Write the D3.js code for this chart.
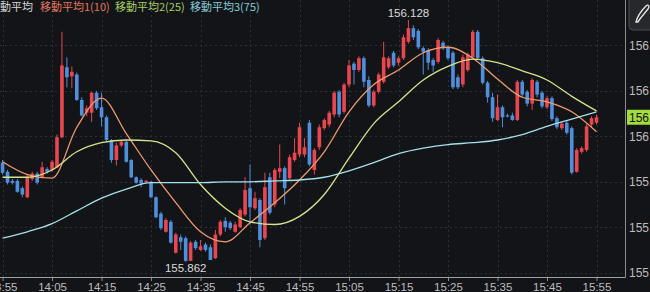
<!DOCTYPE html>
<html>
<head>
	<title>candle-ma</title>
	<meta charset="utf-8">
	<style type="text/css">
		body{margin:0;background:#131418;}
		svg{display:block;}
	</style>
</head>
<body>

<script type="text/javascript" src="https://cdn.jsdelivr.net/npm/d3@7"></script>
<script type="text/javascript">
	/*=========DATA=========*/
	// 1-minute candles from 13:55 to 15:55
	var startTime = "13:55";
	var opens = [155.971,155.961,155.951,155.951,155.943,155.933,155.953,155.959,155.955,155.964,
		155.963,155.966,155.999,156.076,156.066,156.068,156.040,156.026,156.026,156.048,
		156.032,156.021,155.996,155.974,155.990,155.994,155.974,155.955,155.952,155.950,
		155.950,155.933,155.915,155.895,155.906,155.872,155.889,155.888,155.863,155.884,
		155.875,155.881,155.878,155.866,155.892,155.907,155.905,155.895,155.900,155.914,
		155.943,155.921,155.930,155.888,155.955,155.925,155.961,155.965,155.954,155.974,
		155.980,155.980,156.015,155.963,155.988,156.009,156.013,156.024,156.049,156.027,
		156.057,156.080,156.073,156.086,156.062,156.034,156.049,156.060,156.076,156.092,
		156.081,156.086,156.104,156.119,156.116,156.097,156.095,156.084,156.082,156.103,
		156.098,156.092,156.065,156.057,156.073,156.087,156.115,156.086,156.059,156.043,
		156.018,156.032,156.023,156.023,156.018,156.060,156.049,156.036,156.060,156.048,
		156.032,156.042,156.020,156.009,156.015,156.009,155.961,155.983,155.985,156.013,
		156.015];
	var highs = [155.974,155.963,155.953,155.953,155.945,155.959,155.961,155.961,155.972,155.966,
		155.974,156.002,156.115,156.087,156.077,156.070,156.043,156.034,156.049,156.050,
		156.048,156.023,155.997,155.993,155.996,155.996,155.975,155.956,155.954,155.952,
		155.951,155.934,155.917,155.910,155.908,155.894,155.892,155.890,155.885,155.886,
		155.886,155.883,155.881,155.897,155.908,155.911,155.907,155.906,155.921,155.955,
		155.969,155.939,155.932,155.960,155.960,155.965,155.991,155.967,155.980,155.998,
		156.015,155.998,156.018,155.987,156.013,156.020,156.028,156.050,156.051,156.059,
		156.084,156.082,156.088,156.088,156.066,156.051,156.070,156.104,156.088,156.094,
		156.088,156.112,156.128,156.122,156.118,156.099,156.097,156.086,156.108,156.105,
		156.100,156.094,156.068,156.090,156.092,156.117,156.117,156.088,156.061,156.048,
		156.046,156.034,156.025,156.026,156.062,156.062,156.051,156.064,156.062,156.050,
		156.044,156.044,156.022,156.016,156.017,156.011,155.987,155.989,156.014,156.022,
		156.024];
	var lows = [155.958,155.947,155.947,155.938,155.933,155.932,155.951,155.947,155.954,155.959,
		155.961,155.965,155.998,156.054,156.053,156.039,156.022,156.022,156.016,156.029,
		156.011,155.994,155.971,155.968,155.988,155.971,155.954,155.948,155.944,155.949,
		155.932,155.910,155.897,155.894,155.882,155.871,155.875,155.862,155.863,155.875,
		155.874,155.873,155.864,155.865,155.890,155.895,155.897,155.894,155.899,155.912,
		155.903,155.919,155.878,155.886,155.914,155.922,155.954,155.925,155.952,155.972,
		155.977,155.977,155.967,155.958,155.985,156.007,156.010,156.021,156.021,156.025,
		156.054,156.057,156.071,156.054,156.032,156.032,156.047,156.058,156.074,156.076,
		156.078,156.084,156.102,156.106,156.096,156.068,156.073,156.071,156.080,156.095,
		156.084,156.052,156.052,156.054,156.071,156.085,156.084,156.057,156.037,156.016,
		156.017,156.010,156.021,156.017,156.017,156.043,156.033,156.029,156.043,156.031,
		156.030,156.017,156.008,156.007,156.002,155.958,155.960,155.981,155.983,156.010,
		156.013];
	var closes = [155.960,155.949,155.949,155.939,155.936,155.955,155.959,155.949,155.966,155.961,
		155.972,155.999,156.078,156.065,156.071,156.040,156.023,156.031,156.048,156.031,
		156.021,155.996,155.974,155.990,155.994,155.972,155.955,155.949,155.948,155.951,
		155.933,155.911,155.899,155.908,155.883,155.892,155.884,155.863,155.883,155.877,
		155.879,155.875,155.864,155.892,155.906,155.900,155.899,155.903,155.919,155.941,
		155.922,155.932,155.886,155.944,155.916,155.963,155.965,155.943,155.977,155.982,
		156.010,155.988,155.969,155.985,156.010,156.018,156.026,156.048,156.024,156.057,
		156.078,156.073,156.086,156.060,156.034,156.049,156.068,156.087,156.086,156.078,
		156.086,156.109,156.119,156.109,156.098,156.093,156.081,156.078,156.106,156.097,
		156.086,156.054,156.054,156.087,156.090,156.115,156.086,156.059,156.043,156.020,
		156.032,156.021,156.022,156.018,156.060,156.046,156.036,156.062,156.046,156.033,
		156.042,156.019,156.010,156.014,156.004,155.960,155.985,155.987,156.011,156.020,
		156.021];

	// moving averages, read every 5 minutes from 13:55
	var ma1 = [155.972,155.958,155.954,156.010,156.042,156.003,155.963,155.927,155.895,155.884,
		155.905,155.927,155.952,155.983,156.027,156.057,156.073,156.092,156.098,156.086,
		156.063,156.043,156.038,156.027,156.005];
	var ma2 = [155.955,155.955,155.963,155.983,155.993,155.996,155.995,155.982,155.947,155.921,
		155.906,155.903,155.912,155.936,155.976,156.014,156.038,156.062,156.077,156.085,
		156.081,156.072,156.062,156.044,156.028];
	var ma3 = [155.888,155.895,155.904,155.918,155.932,155.942,155.949,155.949,155.949,155.950,
		155.950,155.951,155.952,155.955,155.962,155.971,155.981,155.987,155.991,155.993,
		155.996,156.002,156.011,156.019,156.027];

	var timeTicks = ["13:55","14:05","14:15","14:25","14:35","14:45","14:55",
		"15:05","15:15","15:25","15:35","15:45","15:55"];
	var priceTicks = [155.85,155.90,155.95,156.00,156.05,156.10];
	var legendNames = ["移動平均","移動平均1(10)","移動平均2(25)","移動平均3(75)"];

	/*=========COLOR=========*/
	var upColor = "#e8474f";
	var downColor = "#4f8fdc";
	var maColors = ["#ee9b6c","#d3e58a","#a6e0ea"];
	var legendColors = ["#d8d8d8","#e2765c","#a4cf62","#82cdd8"];
	var gridColor = "#2c3036";
	var textColor = "#bdbdbd";
	var font = "'Liberation Sans', Arial, sans-serif";
	var cjkFont = "'Noto Sans CJK JP', 'Liberation Sans', sans-serif";

	/*=====SIZE SVG======*/
	var w = 650;
	var h = 292;
	var plotRight = 625;
	var plotBottom = 277;
	var svg = d3.select("body").append("svg").attr("width",w).attr("height",h);
	svg.append("rect").attr("width",w).attr("height",h).attr("fill","#131418");

	/*=========SCALE=========*/
	var parse = d3.timeParse("%H:%M");
	var t0 = parse(startTime);
	var times = opens.map(function(d,i){ return d3.timeMinute.offset(t0,i); });
	var maTimes = ma1.map(function(d,i){ return d3.timeMinute.offset(t0,i*5); });

	var x = d3.scaleTime()
		.domain([t0, d3.timeMinute.offset(t0,120)])
		.range([2.55,596.5]);
	var y = d3.scaleLinear()
		.domain([155.85,156.10])
		.range([272.7,45.45]);

	svg.append("clipPath").attr("id","plot")
		.append("rect").attr("x",0).attr("y",0).attr("width",plotRight).attr("height",plotBottom);

	/*=========GRID=========*/
	var grid = svg.append("g").attr("stroke",gridColor).attr("stroke-width",1).attr("stroke-dasharray","2,3");
	grid.selectAll("line.h").data(priceTicks).enter().append("line")
		.attr("class","h")
		.attr("x1",0).attr("x2",plotRight)
		.attr("y1",function(d){ return Math.round(y(d)) + 0.5; })
		.attr("y2",function(d){ return Math.round(y(d)) + 0.5; });
	grid.selectAll("line.v").data(timeTicks).enter().append("line")
		.attr("class","v")
		.attr("y1",0).attr("y2",plotBottom)
		.attr("x1",function(d){ return Math.round(x(parse(d))) + 0.5; })
		.attr("x2",function(d){ return Math.round(x(parse(d))) + 0.5; });

	/*=========CANDLES=========*/
	var plot = svg.append("g").attr("clip-path","url(#plot)");
	var candles = plot.selectAll("g.candle")
		.data(times)
		.enter()
		.append("g")
		.attr("class","candle");
	function col(i){ return closes[i] >= opens[i] ? upColor : downColor; }
	candles.append("line")
		.attr("x1",function(d){ return x(d); })
		.attr("x2",function(d){ return x(d); })
		.attr("y1",function(d,i){ return y(highs[i]); })
		.attr("y2",function(d,i){ return y(lows[i]); })
		.attr("stroke",function(d,i){ return col(i); })
		.attr("stroke-width",1);
	candles.append("rect")
		.attr("x",function(d){ return x(d) - 1.8; })
		.attr("width",3.6)
		.attr("y",function(d,i){ return Math.min(y(opens[i]),y(closes[i])); })
		.attr("height",function(d,i){ return Math.max(1.2,Math.abs(y(opens[i]) - y(closes[i]))); })
		.attr("fill",function(d,i){ return col(i); });

	/*=========MA LINES=========*/
	var line = d3.line()
		.x(function(d,i){ return x(maTimes[i]); })
		.y(function(d){ return y(d); })
		.curve(d3.curveMonotoneX);
	[ma1,ma2,ma3].forEach(function(s,k){
		plot.append("path")
			.attr("d",line(s))
			.attr("fill","none")
			.attr("stroke",maColors[k])
			.attr("stroke-width",1.3);
	});

	/*=========HIGH / LOW=========*/
	var hiIdx = d3.maxIndex(highs);
	var loIdx = d3.minIndex(lows);
	svg.append("text")
		.attr("x",x(times[hiIdx])).attr("y",y(highs[hiIdx]) - 3)
		.attr("text-anchor","middle")
		.attr("fill","#dcdcdc").attr("font-family",font).attr("font-size",11.5)
		.text(d3.format(".3f")(highs[hiIdx]));
	svg.append("text")
		.attr("x",x(times[loIdx])).attr("y",y(lows[loIdx]) + 10.5)
		.attr("text-anchor","middle")
		.attr("fill","#dcdcdc").attr("font-family",font).attr("font-size",11.5)
		.text(d3.format(".3f")(lows[loIdx]));

	/*=========AXES=========*/
	var xAxis = d3.axisBottom(x)
		.tickValues(timeTicks.map(parse))
		.tickFormat(d3.timeFormat("%H:%M"))
		.tickSize(4).tickPadding(2);
	var gx = svg.append("g").attr("transform","translate(0," + plotBottom + ")").call(xAxis);
	gx.select(".domain").remove();
	gx.selectAll(".tick line").attr("stroke","#8a8a8a");
	gx.selectAll(".tick text").attr("fill",textColor).attr("font-family",font).attr("font-size",11.5);

	var yAxis = d3.axisRight(y)
		.tickValues(priceTicks)
		.tickFormat(d3.format(".2f"))
		.tickSize(0).tickPadding(4);
	var gy = svg.append("g").attr("transform","translate(" + plotRight + ",0)").call(yAxis);
	gy.select(".domain").remove();
	gy.selectAll(".tick text").attr("fill",textColor).attr("font-family",font).attr("font-size",12);

	// frame
	svg.append("line").attr("x1",0).attr("x2",plotRight + 0.5)
		.attr("y1",plotBottom + 0.5).attr("y2",plotBottom + 0.5)
		.attr("stroke","#a0a0a0").attr("stroke-width",1.2);
	svg.append("line").attr("x1",plotRight + 0.5).attr("x2",plotRight + 0.5)
		.attr("y1",0).attr("y2",plotBottom + 0.5)
		.attr("stroke","#8c8c8c").attr("stroke-width",1);

	/*=========LAST PRICE=========*/
	var last = closes[closes.length - 1];
	svg.append("rect")
		.attr("x",plotRight + 2).attr("y",y(last) - 7.5)
		.attr("width",30).attr("height",15)
		.attr("fill","#a4dc3c");
	svg.append("text")
		.attr("x",plotRight + 4).attr("y",y(last) + 4.5)
		.attr("fill","#111").attr("font-family",font).attr("font-size",12)
		.text(d3.format(".3f")(last));

	/*=========TOOL BUTTON=========*/
	svg.append("rect")
		.attr("x",629).attr("y",-4).attr("width",30).attr("height",34).attr("rx",4)
		.attr("fill","#26282c").attr("stroke","#4a4c50");
	svg.append("path")
		.attr("d","M636,22 C638,14 644,8 646,6 C648,4 650,6 648,9 C645,13 640,18 638,22 Z")
		.attr("fill","none").attr("stroke","#e6e6e6").attr("stroke-width",1.3);

	/*=========LEGEND=========*/
	var legendX = [-11,40,115,190];
	svg.selectAll("text.legend").data(legendNames).enter().append("text")
		.attr("class","legend")
		.attr("x",function(d,i){ return legendX[i]; })
		.attr("y",11)
		.attr("fill",function(d,i){ return legendColors[i]; })
		.attr("font-family",cjkFont).attr("font-size",11)
		.text(function(d){ return d; });
</script>
</body>
</html>
